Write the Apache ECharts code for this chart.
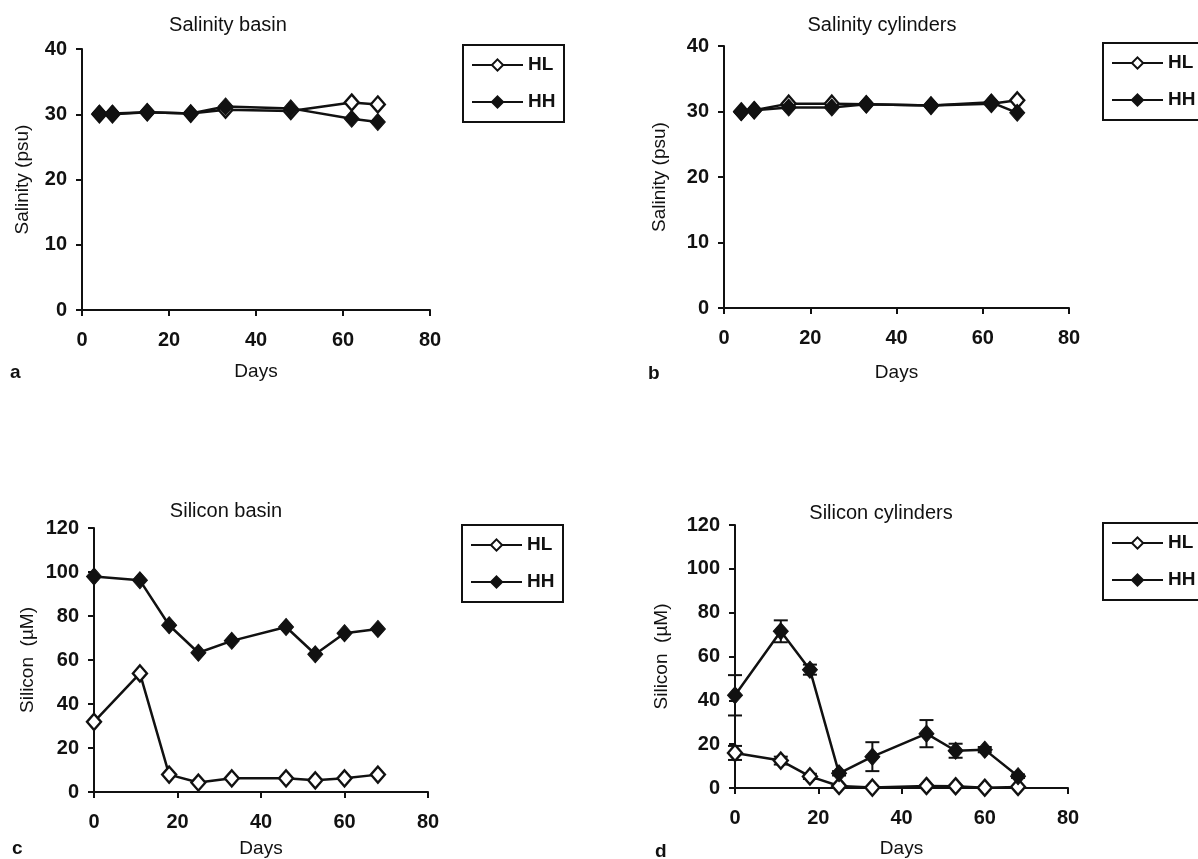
<!DOCTYPE html>
<html>
<head>
<meta charset="utf-8">
<script src="https://cdn.jsdelivr.net/npm/echarts@6/dist/echarts.min.js"></script>
<style>
html,body{margin:0;padding:0;background:#fff;}
#c{width:1198px;height:859px;}
</style>
</head>
<body>
<div id="c"></div>
<script>
// ---- data ----
var daysSalBasin = [4, 7, 15, 25, 33, 48, 62, 68];
var salBasinHL   = [30.0, 30.0, 30.3, 30.1, 30.7, 30.5, 31.8, 31.5];
var salBasinHH   = [30.1, 30.1, 30.3, 30.1, 31.2, 30.9, 29.3, 28.8];

var daysSalCyl = [4, 7, 15, 25, 33, 48, 62, 68];
var salCylHL   = [30.0, 30.2, 31.2, 31.2, 31.1, 30.9, 31.2, 31.7];
var salCylHH   = [29.9, 30.2, 30.6, 30.6, 31.1, 30.9, 31.4, 29.8];

var daysSiBasin = [0, 11, 18, 25, 33, 46, 53, 60, 68];
var siBasinHL   = [31.9, 53.9, 7.9, 4.3, 6.2, 6.2, 5.3, 6.2, 7.9];
var siBasinHH   = [98.0, 96.2, 75.8, 63.3, 68.7, 75.0, 62.6, 72.2, 74.1];

var daysSiCyl = [0, 11, 18, 25, 33, 46, 53, 60, 68];
var siCylHL    = [16.0, 12.5, 5.3, 0.9, 0.2, 0.9, 0.8, 0.1, 0.5];
var siCylHLerr = [3.2, 1.8, 1.2, 0.4, 0, 0.3, 0.3, 0, 0];
var siCylHH    = [42.3, 71.5, 54.0, 6.7, 14.3, 24.8, 17.0, 17.5, 5.4];
var siCylHHerr = [9.2, 5.0, 2.3, 1.0, 6.6, 6.2, 3.2, 1.2, 0.8];

var titles = ['Salinity basin', 'Salinity cylinders', 'Silicon basin', 'Silicon cylinders'];
var panelLetters = ['a', 'b', 'c', 'd'];
var yNames = ['Salinity (psu)', 'Salinity (psu)', 'Silicon  (\u00b5M)', 'Silicon  (\u00b5M)'];
var xName = 'Days';
var seriesNames = ['HL', 'HH'];

// ---- layout/style ----
var INK = '#111';
var SANS = '"Liberation Sans", Arial, Helvetica, sans-serif';
var grids = [
  {left: 82,  top: 49,  width: 348, height: 261},
  {left: 724, top: 46,  width: 345, height: 262},
  {left: 94,  top: 528, width: 334, height: 264},
  {left: 735, top: 525, width: 333, height: 266}
];
var yMax = [40, 40, 120, 120];
var yInt = [10, 10, 20, 20];
var yNameGap = [50, 55, 57, 64];
var xNameGap = [52, 55, 47, 51];
var titlePos = [[228, 15], [882, 15], [226, 501], [881, 503]];
var letterPos = [[15, 374], [653, 375], [17, 850], [660, 853]];
var legendPos = [[463, 45], [1103, 43], [462, 525], [1103, 523]];
var legendBoxW = 101, legendBoxH = 77;

function pairs(xs, ys){ return xs.map(function(x, i){ return [x, ys[i]]; }); }
function errData(xs, ys, es){
  var out = [];
  xs.forEach(function(x, i){ if (es[i] > 0) out.push([x, ys[i] - es[i], ys[i] + es[i]]); });
  return out;
}

var xAxes = [], yAxes = [], titleArr = [], legends = [], series = [], graphics = [];
for (var k = 0; k < 4; k++) {
  xAxes.push({
    gridIndex: k, type: 'value', min: 0, max: 80, interval: 20,
    name: xName, nameLocation: 'middle', nameGap: xNameGap[k],
    nameTextStyle: {fontFamily: SANS, fontSize: 19, color: INK},
    axisLine: {show: true, onZero: false, lineStyle: {color: INK, width: 2}},
    axisTick: {show: true, inside: false, length: 6, lineStyle: {color: INK, width: 2}},
    axisLabel: {margin: 20, fontFamily: SANS, fontWeight: 'bold', fontSize: 20, color: INK},
    splitLine: {show: false}
  });
  yAxes.push({
    gridIndex: k, type: 'value', min: 0, max: yMax[k], interval: yInt[k],
    name: yNames[k], nameLocation: 'middle', nameGap: yNameGap[k], nameRotate: 90,
    nameTextStyle: {fontFamily: SANS, fontSize: 19, color: INK},
    axisLine: {show: true, onZero: false, lineStyle: {color: INK, width: 2}},
    axisTick: {show: true, inside: false, length: 6, lineStyle: {color: INK, width: 2}},
    axisLabel: {margin: 15, fontFamily: SANS, fontWeight: 'bold', fontSize: 20, color: INK},
    splitLine: {show: false}
  });
  titleArr.push({
    text: titles[k], left: titlePos[k][0], top: titlePos[k][1], textAlign: 'center', padding: 0,
    textStyle: {fontFamily: SANS, fontSize: 20, fontWeight: 'normal', color: INK}
  });
  legends.push({
    data: seriesNames, orient: 'vertical', left: legendPos[k][0], top: legendPos[k][1],
    itemWidth: 51, itemHeight: 14, itemGap: 17, padding: [10, 8, 9, 8],
    borderWidth: 0, selectedMode: false,
    textStyle: {fontFamily: SANS, fontWeight: 'bold', fontSize: 19, color: INK, lineHeight: 20}
  });
  // legend frame (may run past the right edge, as in the original)
  graphics.push({
    type: 'rect', silent: true, z: 10,
    shape: {x: legendPos[k][0], y: legendPos[k][1], width: legendBoxW, height: legendBoxH},
    style: {fill: 'none', stroke: INK, lineWidth: 2}
  });
}

var panelData = [
  [daysSalBasin, salBasinHL, salBasinHH],
  [daysSalCyl, salCylHL, salCylHH],
  [daysSiBasin, siBasinHL, siBasinHH],
  [daysSiCyl, siCylHL, siCylHH]
];

function renderErr(params, api){
  var x = api.value(0), lo = api.value(1), hi = api.value(2);
  var p1 = api.coord([x, hi]), p2 = api.coord([x, lo]);
  var w = 7, st = {stroke: INK, lineWidth: 2};
  return {type: 'group', children: [
    {type: 'line', shape: {x1: p1[0], y1: p1[1], x2: p2[0], y2: p2[1]}, style: st},
    {type: 'line', shape: {x1: p1[0] - w, y1: p1[1], x2: p1[0] + w, y2: p1[1]}, style: st},
    {type: 'line', shape: {x1: p2[0] - w, y1: p2[1], x2: p2[0] + w, y2: p2[1]}, style: st}
  ]};
}

// error bars (panel d)
series.push({
  name: 'HL error', type: 'custom', xAxisIndex: 3, yAxisIndex: 3, z: 1,
  renderItem: renderErr, encode: {x: 0, y: [1, 2]}, clip: false, silent: true,
  data: errData(daysSiCyl, siCylHL, siCylHLerr)
});
series.push({
  name: 'HH error', type: 'custom', xAxisIndex: 3, yAxisIndex: 3, z: 1,
  renderItem: renderErr, encode: {x: 0, y: [1, 2]}, clip: false, silent: true,
  data: errData(daysSiCyl, siCylHH, siCylHHerr)
});

for (var p = 0; p < 4; p++) {
  var d = panelData[p];
  series.push({
    name: 'HL', type: 'line', xAxisIndex: p, yAxisIndex: p, z: 3,
    data: pairs(d[0], d[1]), clip: false, animation: false,
    symbol: 'diamond', symbolSize: [14, 16], showAllSymbol: true,
    lineStyle: {color: INK, width: 2.5},
    itemStyle: {color: '#fff', borderColor: INK, borderWidth: 2.4}
  });
  series.push({
    name: 'HH', type: 'line', xAxisIndex: p, yAxisIndex: p, z: 4,
    data: pairs(d[0], d[2]), clip: false, animation: false,
    symbol: 'diamond', symbolSize: [15, 17], showAllSymbol: true,
    lineStyle: {color: INK, width: 2.5},
    itemStyle: {color: INK, borderColor: INK, borderWidth: 1}
  });
}

panelLetters.forEach(function(t, i){
  graphics.push({type: 'text', left: letterPos[i][0] - 5, top: letterPos[i][1] - 11,
    style: {text: t, fontFamily: SANS, fontWeight: 'bold', fontSize: 19, fill: INK}});
});

var chart = echarts.init(document.getElementById('c'), null, {renderer: 'canvas'});
chart.setOption({
  backgroundColor: '#fff',
  animation: false,
  title: titleArr,
  legend: legends,
  grid: grids,
  xAxis: xAxes,
  yAxis: yAxes,
  graphic: graphics,
  series: series
});
</script>
</body>
</html>
